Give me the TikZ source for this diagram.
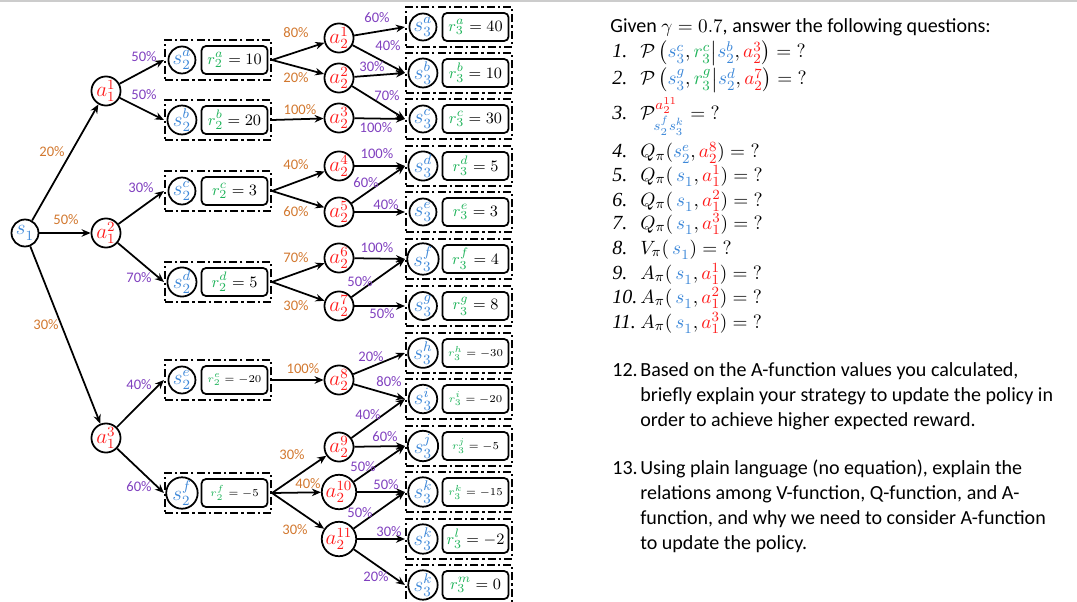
\documentclass[tikz,border=0pt]{standalone}
\usepackage{amsmath,amssymb}
\usepackage[no-math]{fontspec}
\setmainfont{Carlito}
\newfontfamily\numfont{Liberation Serif}
\usepackage{xcolor}
\usepackage{tikz}
\usetikzlibrary{arrows.meta}
\definecolor{sblue}{HTML}{3C87D8}
\definecolor{rgreen}{HTML}{1FB35A}
\definecolor{ared}{HTML}{FF1A1A}
\definecolor{porange}{HTML}{D2782F}
\definecolor{ppurple}{HTML}{8040BF}
\tikzset{
  st/.style={circle,draw,line width=1pt,inner sep=0pt,minimum size=0.54cm,font=\fontsize{12}{13}\selectfont},
  rw/.style={draw,line width=1pt,rounded corners=2.5pt,minimum width=1.32cm,minimum height=0.56cm,inner sep=0pt,font=\fontsize{9.5}{10}\selectfont},
  grp/.style={draw,line width=1.2pt,dash pattern=on 4.5pt off 1.8pt on 1.2pt off 1.8pt,minimum width=2.12cm,minimum height=0.8cm,inner sep=0pt},
  tr/.style={line width=1pt,-{Stealth[length=1.8mm,width=1.5mm]}},
  pa/.style={text=porange,font=\fontsize{8.3}{9}\selectfont,inner sep=0pt},
  pb/.style={text=ppurple,font=\fontsize{8.3}{9}\selectfont,inner sep=0pt},
  qs/.style={anchor=base west,inner sep=0pt,font=\fontsize{11.4}{13}\selectfont},
  qn/.style={anchor=base west,inner sep=0pt,font=\fontsize{11.4}{13}\selectfont\numfont\itshape}
}
\newcommand{\sx}[2]{{\color{sblue}s^{#2}_{#1}}}
\newcommand{\rx}[2]{{\color{rgreen}r^{#2}_{#1}}}
\newcommand{\ax}[2]{{\color{ared}a^{#2}_{#1}}}
\newcommand{\rsmall}{\fontsize{6.5}{7}\selectfont}
% state group: dash-dot frame with state circle and reward box
\newcommand{\stgrp}[5]{%
  \node[grp] (#1) at (#2,#3) {};
  \node[st] (#1-s) at ([xshift=0.36cm]#1.west) {$#4$};
  \node[rw] (#1-r) at ([xshift=-0.75cm]#1.east) {#5};
}

\begin{document}
\begin{tikzpicture}[x=0.02cm,y=-0.02cm]
\useasboundingbox (0,0) rectangle (1077,601);
\draw[gray!40,line width=1pt] (0,1) -- (1077,1);

% root and first actions
\node[st] (s1) at (25,233) {$\sx{1}{}$};
\node[st] (a11) at (106,91) {$\ax{1}{1}$};
\node[st] (a12) at (106,233) {$\ax{1}{2}$};
\node[st] (a13) at (106,438) {$\ax{1}{3}$};

% second states
\stgrp{s2a}{218}{60}{\sx{2}{a}}{$\rx{2}{a}=10$}
\stgrp{s2b}{218}{120}{\sx{2}{b}}{$\rx{2}{b}=20$}
\stgrp{s2c}{218}{191}{\sx{2}{c}}{$\rx{2}{c}=3$}
\stgrp{s2d}{218}{282}{\sx{2}{d}}{$\rx{2}{d}=5$}
\stgrp{s2e}{218}{380}{\sx{2}{e}}{\rsmall$\rx{2}{e}=-20$}
\stgrp{s2f}{218}{493}{\sx{2}{f}}{\rsmall$\rx{2}{f}=-5$}

% second actions
\node[st] (a21) at (339,38) {$\ax{2}{1}$};
\node[st] (a22) at (339,78) {$\ax{2}{2}$};
\node[st] (a23) at (339,118) {$\ax{2}{3}$};
\node[st] (a24) at (339,166) {$\ax{2}{4}$};
\node[st] (a25) at (339,212) {$\ax{2}{5}$};
\node[st] (a26) at (339,258) {$\ax{2}{6}$};
\node[st] (a27) at (339,306) {$\ax{2}{7}$};
\node[st] (a28) at (339,380) {$\ax{2}{8}$};
\node[st] (a29) at (339,447) {$\ax{2}{9}$};
\node[st] (a210) at (339,492) {$\ax{2}{10}$};
\node[st] (a211) at (339,539) {$\ax{2}{11}$};

% third states
\stgrp{s3a}{459}{27}{\sx{3}{a}}{$\rx{3}{a}=40$}
\stgrp{s3b}{459}{73}{\sx{3}{b}}{$\rx{3}{b}=10$}
\stgrp{s3c}{459}{119}{\sx{3}{c}}{$\rx{3}{c}=30$}
\stgrp{s3d}{459}{166}{\sx{3}{d}}{$\rx{3}{d}=5$}
\stgrp{s3e}{459}{212}{\sx{3}{e}}{$\rx{3}{e}=3$}
\stgrp{s3f}{459}{259}{\sx{3}{f}}{$\rx{3}{f}=4$}
\stgrp{s3g}{459}{306}{\sx{3}{g}}{$\rx{3}{g}=8$}
\stgrp{s3h}{459}{353}{\sx{3}{h}}{\rsmall$\rx{3}{h}=-30$}
\stgrp{s3i}{459}{399}{\sx{3}{i}}{\rsmall$\rx{3}{i}=-20$}
\stgrp{s3j}{459}{446}{\sx{3}{j}}{\rsmall$\rx{3}{j}=-5$}
\stgrp{s3k}{459}{492}{\sx{3}{k}}{\rsmall$\rx{3}{k}=-15$}
\stgrp{s3l}{459}{539}{\sx{3}{k}}{$\rx{3}{l}=-2$}
\stgrp{s3m}{459}{585}{\sx{3}{k}}{$\rx{3}{m}=0$}

% transitions
\draw[tr] (s1) -- (a11); \node[pa] (p1) at (52,152) {20\%};
\draw[tr] (s1) -- (a12); \node[pa] (p2) at (66,220) {50\%};
\draw[tr] (s1) -- (a13); \node[pa] (p3) at (46,325) {30\%};
\draw[tr] (a11) -- (s2a.west); \node[pb] (p4) at (144,57) {50\%};
\draw[tr] (a11) -- (s2b.west); \node[pb] (p5) at (144,95) {50\%};
\draw[tr] (a12) -- (s2c.west); \node[pb] (p6) at (141,188) {30\%};
\draw[tr] (a12) -- (s2d.west); \node[pb] (p7) at (139,278) {70\%};
\draw[tr] (a13) -- (s2e.west); \node[pb] (p8) at (139,385) {40\%};
\draw[tr] (a13) -- (s2f.west); \node[pb] (p9) at (139,487) {60\%};

\draw[tr] (s2a.east) -- (a21); \node[pa] (p10) at (296,33) {80\%};
\draw[tr] (s2a.east) -- (a22); \node[pa] (p11) at (296,78) {20\%};
\draw[tr] (s2b.east) -- (a23); \node[pa] (p12) at (300,110) {100\%};
\draw[tr] (s2c.east) -- (a24); \node[pa] (p13) at (296,165) {40\%};
\draw[tr] (s2c.east) -- (a25); \node[pa] (p14) at (296,212) {60\%};
\draw[tr] (s2d.east) -- (a26); \node[pa] (p15) at (296,258) {70\%};
\draw[tr] (s2d.east) -- (a27); \node[pa] (p16) at (296,306) {30\%};
\draw[tr] (s2e.east) -- (a28); \node[pa] (p17) at (303,369) {100\%};
\draw[tr] (s2f.east) -- (a29); \node[pa] (p18) at (292,455) {30\%};
\draw[tr] (s2f.east) -- (a210); \node[pa] (p19) at (308,484) {40\%};
\draw[tr] (s2f.east) -- (a211); \node[pa] (p20) at (295,530) {30\%};

\draw[tr] (a21) -- (s3a.west); \node[pb] (p21) at (377,18) {60\%};
\draw[tr] (a21) -- (s3b.west); \node[pb] (p22) at (388,46) {40\%};
\draw[tr] (a22) -- (s3b.west); \node[pb] (p23) at (372,67) {30\%};
\draw[tr] (a22) -- (s3c.west); \node[pb] (p24) at (387,96) {70\%};
\draw[tr] (a23) -- (s3c.west); \node[pb] (p25) at (376,128) {100\%};
\draw[tr] (a24) -- (s3d.west); \node[pb] (p26) at (377,154) {100\%};
\draw[tr] (a25) -- (s3d.west); \node[pb] (p27) at (366,183) {60\%};
\draw[tr] (a25) -- (s3e.west); \node[pb] (p28) at (386,205) {40\%};
\draw[tr] (a26) -- (s3f.west); \node[pb] (p29) at (377,248) {100\%};
\draw[tr] (a27) -- (s3f.west); \node[pb] (p30) at (360,282) {50\%};
\draw[tr] (a27) -- (s3g.west); \node[pb] (p31) at (382,314) {50\%};
\draw[tr] (a28) -- (s3h.west); \node[pb] (p32) at (371,357) {20\%};
\draw[tr] (a28) -- (s3i.west); \node[pb] (p33) at (389,382) {80\%};
\draw[tr] (a29) -- (s3i.west); \node[pb] (p34) at (368,415) {40\%};
\draw[tr] (a29) -- (s3j.west); \node[pb] (p35) at (385,437) {60\%};
\draw[tr] (a210) -- (s3j.west); \node[pb] (p36) at (363,467) {50\%};
\draw[tr] (a210) -- (s3k.west); \node[pb] (p37) at (386,485) {50\%};
\draw[tr] (a211) -- (s3k.west); \node[pb] (p38) at (360,513) {50\%};
\draw[tr] (a211) -- (s3l.west); \node[pb] (p39) at (389,532) {30\%};
\draw[tr] (a211) -- (s3m.west); \node[pb] (p40) at (376,577) {20\%};

% questions
\node[qs] (q0) at (610,33) {Given $\gamma = 0.7$, answer the following questions:};
\node[qn] (n1) at (612,58) {1.};
\node[qs] (q1) at (640,58) {$\mathcal{P}\left(\sx{3}{c},\rx{3}{c}\middle|\sx{2}{b},\ax{2}{3}\right) = {?}$};
\node[qn] (n2) at (612,85) {2.};
\node[qs] (q2) at (640,85) {$\mathcal{P}\left(\sx{3}{g},\rx{3}{g}\middle|\sx{2}{d},\ax{2}{7}\right) = {?}$};
\node[qn] (n3) at (612,120) {3.};
\node[qs] (q3) at (640,120) {$\mathcal{P}^{\ax{2}{11}}_{\sx{2}{f}\sx{3}{k}} = {?}$};
\node[qn] (n4) at (612,158) {4.};
\node[qs] (q4) at (640,158) {$Q_\pi(\sx{2}{e},\ax{2}{8}) = {?}$};
\node[qn] (n5) at (612,181) {5.};
\node[qs] (q5) at (640,181) {$Q_\pi(\,\sx{1}{},\ax{1}{1}) = {?}$};
\node[qn] (n6) at (612,206) {6.};
\node[qs] (q6) at (640,206) {$Q_\pi(\,\sx{1}{},\ax{1}{2}) = {?}$};
\node[qn] (n7) at (612,229) {7.};
\node[qs] (q7) at (640,229) {$Q_\pi(\,\sx{1}{},\ax{1}{3}) = {?}$};
\node[qn] (n8) at (612,254) {8.};
\node[qs] (q8) at (640,254) {$V_\pi(\,\sx{1}{}) = {?}$};
\node[qn] (n9) at (612,279) {9.};
\node[qs] (q9) at (640,279) {$A_\pi(\,\sx{1}{},\ax{1}{1}) = {?}$};
\node[qn] (n10) at (612,303) {10.};
\node[qs] (q10) at (640,303) {$A_\pi(\,\sx{1}{},\ax{1}{2}) = {?}$};
\node[qn] (n11) at (612,328) {11.};
\node[qs] (q11) at (640,328) {$A_\pi(\,\sx{1}{},\ax{1}{3}) = {?}$};

\node[qs] (n12) at (612,376) {12.};
\node[qs] (q12a) at (640,376) {Based on the A-function values you calculated,};
\node[qs] (q12b) at (640,401) {briefly explain your strategy to update the policy in};
\node[qs] (q12c) at (640,426) {order to achieve higher expected reward.};
\node[qs] (n13) at (612,474) {13.};
\node[qs] (q13a) at (640,474) {Using plain language (no equation), explain the};
\node[qs] (q13b) at (640,499) {relations among V-function, Q-function, and A-};
\node[qs] (q13c) at (640,524) {function, and why we need to consider A-function};
\node[qs] (q13d) at (640,549) {to update the policy.};
\end{tikzpicture}
\end{document}
